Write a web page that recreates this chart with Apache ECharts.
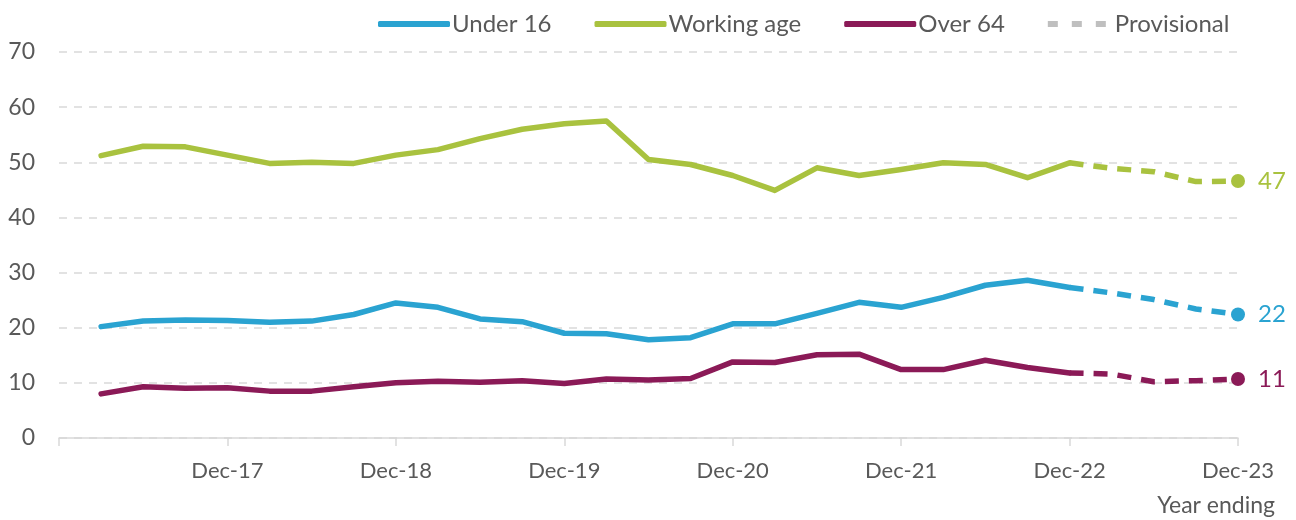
<!DOCTYPE html>
<html>
<head>
<meta charset="utf-8">
<script src="https://cdn.jsdelivr.net/npm/echarts@6/dist/echarts.min.js"></script>
<style>
  html, body { margin: 0; padding: 0; background: #fff; }
  #chart { width: 1296px; height: 520px; }
</style>
</head>
<body>
<div id="chart"></div>
<script>
// quarters, year ending; first slot (Dec-16) is only the axis start
var quarters = ['Dec-16',
  'Mar-17','Jun-17','Sep-17','Dec-17','Mar-18','Jun-18','Sep-18','Dec-18',
  'Mar-19','Jun-19','Sep-19','Dec-19','Mar-20','Jun-20','Sep-20','Dec-20',
  'Mar-21','Jun-21','Sep-21','Dec-21','Mar-22','Jun-22','Sep-22','Dec-22',
  'Mar-23','Jun-23','Sep-23','Dec-23'];

// values from Mar-17 to Dec-23
var under16 = [20.2,21.2,21.4,21.3,21.0,21.2,22.4,24.5,23.7,21.6,21.1,19.0,18.9,17.8,18.2,20.7,
  20.7,22.6,24.6,23.7,25.5,27.7,28.6,27.3,26.3,25.1,23.4,22.4];
var workingAge = [51.2,52.9,52.8,51.3,49.8,50.0,49.8,51.3,52.3,54.3,56.0,57.0,57.5,50.5,49.6,47.6,
  44.9,49.0,47.6,48.7,49.9,49.6,47.2,49.9,48.9,48.3,46.5,46.6];
var over64 = [8.0,9.3,9.0,9.1,8.5,8.5,9.3,10.0,10.3,10.1,10.4,9.9,10.7,10.5,10.8,13.8,
  13.7,15.1,15.2,12.4,12.4,14.1,12.8,11.8,11.6,10.2,10.4,10.7];

var provisionalFrom = 'Dec-22';
var yTicks = [0, 10, 20, 30, 40, 50, 60, 70];

var groups = [
  {name: 'Under 16', color: '#2aa3d1', values: under16},
  {name: 'Working age', color: '#a9c23f', values: workingAge},
  {name: 'Over 64', color: '#8b1a57', values: over64}
];

var split = quarters.indexOf(provisionalFrom);
var last = quarters.length - 1;
var dash = [14, 10];

var series = [];
groups.forEach(function (g) {
  var full = [null].concat(g.values);
  var solid = full.map(function (v, i) { return i <= split ? v : null; });
  var dashed = full.map(function (v, i) { return i >= split ? v : null; });
  series.push({
    name: g.name, type: 'line', data: solid, symbol: 'none',
    lineStyle: {color: g.color, width: 5.5, cap: 'round', join: 'round'},
    itemStyle: {color: g.color},
    z: 3
  });
  series.push({
    name: g.name + ' (provisional)', type: 'line', data: dashed,
    symbol: 'circle',
    symbolSize: function (v, p) { return p.dataIndex === last ? 14 : 0; },
    lineStyle: {color: g.color, width: 5.5, type: dash},
    itemStyle: {color: g.color},
    endLabel: {
      show: true, color: g.color, fontSize: 24, fontFamily: 'Lato', distance: 20,
      formatter: function (p) { return Math.round(p.value); }
    },
    z: 3
  });
});
// legend-only entry for the dashed style
series.push({
  name: 'Provisional', type: 'line', data: [], symbol: 'none',
  lineStyle: {color: '#bfbfbf', width: 5.5, type: [12, 10]},
  itemStyle: {color: '#bfbfbf'}
});

var chart = echarts.init(document.getElementById('chart'));
chart.setOption({
  animation: false,
  textStyle: {fontFamily: 'Lato'},
  legend: {
    data: [
      {name: 'Under 16', icon: 'roundRect'},
      {name: 'Working age', icon: 'roundRect'},
      {name: 'Over 64', icon: 'roundRect'},
      {name: 'Provisional', icon: 'path://M0,0h10v6h-10z M24,0h10v6h-10z M48,0h10v6h-10z'}
    ],
    top: 7, left: 373,
    itemWidth: 72, itemHeight: 6, itemGap: 43,
    textStyle: {color: '#595959', fontSize: 24, fontFamily: 'Lato', padding: [0, 0, 0, -3]}
  },
  grid: {left: 59, right: 58, top: 52, bottom: 82},
  xAxis: {
    type: 'category', data: quarters, boundaryGap: false,
    name: 'Year ending', nameLocation: 'end',
    nameTextStyle: {color: '#595959', fontSize: 23, fontFamily: 'Lato',
      align: 'right', verticalAlign: 'top', padding: [56, -22, 0, 0]},
    axisLine: {lineStyle: {color: '#d9d9d9', width: 1.5}},
    axisTick: {
      show: true, length: 8, alignWithLabel: true,
      interval: function (i) { return i % 4 === 0; },
      lineStyle: {color: '#d9d9d9', width: 1.5}
    },
    axisLabel: {
      color: '#595959', fontSize: 22, margin: 22,
      interval: function (i) { return i % 4 === 0 && i > 0; }
    },
    splitLine: {show: false}
  },
  yAxis: {
    type: 'value', min: yTicks[0], max: yTicks[yTicks.length - 1], interval: 10,
    axisLine: {show: false}, axisTick: {show: false},
    axisLabel: {color: '#595959', fontSize: 23, margin: 24},
    splitLine: {lineStyle: {color: '#d9d9d9', width: 1.5, type: [8, 7]}}
  },
  series: series
});
</script>
</body>
</html>
